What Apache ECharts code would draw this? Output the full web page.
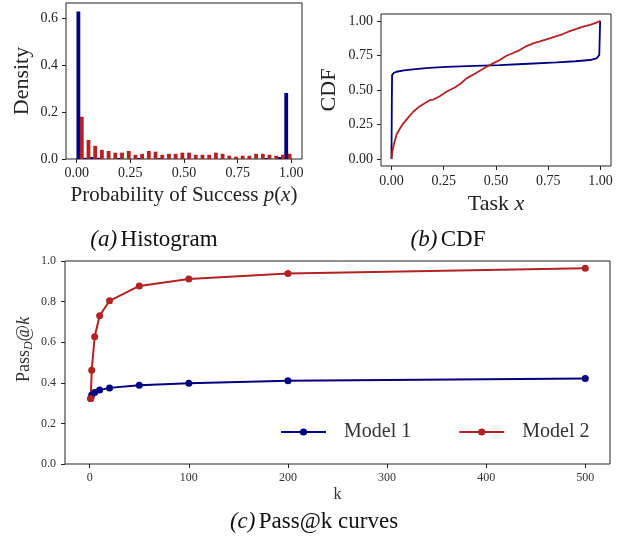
<!DOCTYPE html>
<html><head><meta charset="utf-8">
<script src="https://cdn.jsdelivr.net/npm/echarts@6/dist/echarts.min.js"></script>
<style>html,body{margin:0;padding:0;background:#fff}#c{width:624px;height:541px}</style>
</head><body><div id="c"></div>
<script>
// ---- data ----
const histModel1 = [0.628,0.005,0.008,0.005,0,0,0.004,0,0,0.004,0,0,0.003,0,0,0,0,0,0,0,0,0,0,0,0,0,0,0,0.004,0,0.008,0.281];
const histModel2 = [0.180,0.081,0.056,0.039,0.034,0.027,0.027,0.034,0.018,0.022,0.034,0.031,0.018,0.022,0.022,0.027,0.027,0.018,0.018,0.018,0.027,0.022,0.014,0.010,0.014,0.014,0.022,0.022,0.018,0.014,0.018,0.022];
const cdfModel1 = [[0,0],[0.002,0.45],[0.003,0.608],[0.012,0.625],[0.024,0.632],[0.06,0.642],[0.103,0.649],[0.18,0.66],[0.263,0.668],[0.4,0.675],[0.518,0.68],[0.63,0.688],[0.79,0.70],[0.88,0.708],[0.949,0.717],[0.981,0.729],[0.994,0.753],[0.998,1.0]];
const cdfModel2 = [[0,0],[0.005,0.06],[0.012,0.11],[0.025,0.18],[0.04,0.22],[0.056,0.257],[0.08,0.30],[0.103,0.341],[0.136,0.383],[0.183,0.426],[0.2,0.431],[0.231,0.455],[0.263,0.487],[0.303,0.518],[0.33,0.545],[0.359,0.584],[0.407,0.625],[0.455,0.668],[0.486,0.693],[0.518,0.717],[0.55,0.748],[0.582,0.768],[0.614,0.789],[0.646,0.818],[0.678,0.838],[0.71,0.852],[0.742,0.867],[0.79,0.89],[0.82,0.905],[0.853,0.926],[0.885,0.942],[0.917,0.959],[0.95,0.972],[0.98,0.988],[1.0,1.0]];
const kValues = [1,2,5,10,20,50,100,200,500];
const passModel1 = [0.323,0.340,0.352,0.364,0.375,0.388,0.398,0.410,0.421];
const passModel2 = [0.323,0.462,0.627,0.730,0.804,0.877,0.911,0.939,0.964];
const histXTicks = [0,0.25,0.5,0.75,1];
const histYTicks = [0,0.2,0.4,0.6];
const cdfTicks = [0,0.25,0.5,0.75,1];
const passXTicks = [0,100,200,300,400,500];

// ---- build ----
const FONT = 'Liberation Serif';
const NAVY = '#000080', RED = '#B22222', TXT = '#222';
const nBins = histModel1.length;
const centers = histModel1.map((_, i) => (i + 0.5) / nBins);
const zip = (xs, ys) => xs.map((x, i) => [x, ys[i]]);

function tick(custom) {
  const t = {show: true, inside: false, length: 4, lineStyle: {color: '#222'}};
  if (custom) t.customValues = custom;
  return t;
}
function valAxis(o) {
  return Object.assign({
    type: 'value', axisLine: {show: false, onZero: false}, splitLine: {show: false},
    axisTick: tick(null),
    axisLabel: {fontFamily: FONT, color: TXT, fontSize: 14, margin: 7},
    nameTextStyle: {fontFamily: FONT, color: TXT, fontSize: 22},
    nameLocation: 'middle', nameMoveOverlap: false
  }, o);
}
const gridStyle = {show: true, borderColor: '#222', borderWidth: 1, containLabel: false};

const option = {
  animation: false,
  grid: [
    Object.assign({left: 66, top: 3, width: 236, height: 156}, gridStyle),
    Object.assign({left: 381, top: 14, width: 230, height: 152}, gridStyle),
    Object.assign({left: 65, top: 261, width: 545, height: 203}, gridStyle)
  ],
  xAxis: [
    valAxis({gridIndex: 0, min: -0.05, max: 1.05, axisTick: tick(histXTicks),
      axisLabel: {fontFamily: FONT, color: TXT, fontSize: 14, margin: 7, customValues: histXTicks, formatter: v => v.toFixed(2)},
      name: '{n|Probability of Success }{i|p}{n|(}{i|x}{n|)}', nameGap: 26,
      nameTextStyle: {rich: {n: {fontFamily: FONT, fontSize: 21, color: TXT}, i: {fontFamily: FONT, fontSize: 21, color: TXT, fontStyle: 'italic'}}}}),
    valAxis({gridIndex: 1, min: -0.05, max: 1.05, axisTick: tick(cdfTicks),
      axisLabel: {fontFamily: FONT, color: TXT, fontSize: 14, margin: 8, customValues: cdfTicks, formatter: v => v.toFixed(2)},
      name: '{n|Task }{i|x}', nameGap: 27,
      nameTextStyle: {rich: {n: {fontFamily: FONT, fontSize: 22, color: TXT}, i: {fontFamily: FONT, fontSize: 22, color: TXT, fontStyle: 'italic'}}}}),
    valAxis({gridIndex: 2, min: -24.95, max: 524.95, axisTick: tick(passXTicks),
      axisLabel: {fontFamily: FONT, color: '#333', fontSize: 12, margin: 8, customValues: passXTicks},
      name: 'k', nameGap: 23, nameTextStyle: {fontFamily: FONT, color: '#333', fontSize: 16}})
  ],
  yAxis: [
    valAxis({gridIndex: 0, min: 0, max: 0.664, axisTick: tick(histYTicks),
      axisLabel: {fontFamily: FONT, color: TXT, fontSize: 14, margin: 8, customValues: histYTicks, formatter: v => v.toFixed(1)},
      name: 'Density', nameGap: 33}),
    valAxis({gridIndex: 1, min: -0.05, max: 1.05, axisTick: tick(cdfTicks),
      axisLabel: {fontFamily: FONT, color: TXT, fontSize: 14, margin: 8, customValues: cdfTicks, formatter: v => v.toFixed(2)},
      name: 'CDF', nameGap: 41}),
    valAxis({gridIndex: 2, min: 0, max: 1, interval: 0.2, axisTick: tick(null),
      axisLabel: {fontFamily: FONT, color: '#333', fontSize: 12, margin: 9, formatter: v => v.toFixed(1)},
      name: '{n|Pass}{s|D}{n|@}{i|k}', nameGap: 30,
      nameTextStyle: {padding: [0, 0, 0, 26], rich: {
        n: {fontFamily: FONT, fontSize: 18, color: '#333', lineHeight: 22},
        s: {fontFamily: FONT, fontSize: 12, color: '#333', fontStyle: 'italic', verticalAlign: 'bottom', lineHeight: 10},
        i: {fontFamily: FONT, fontSize: 18, color: '#333', fontStyle: 'italic', lineHeight: 22}}}})
  ],
  legend: {
    data: ['Model 1', 'Model 2'], left: 280, top: 422, orient: 'horizontal', padding: 0,
    itemWidth: 45, itemHeight: 9, itemGap: 47,
    textStyle: {fontFamily: FONT, fontSize: 20, color: '#333', padding: [0, 0, 0, 13]}
  },
  graphic: [
    {type: 'text', x: 154, y: 240, style: {text: '{i|(a)} {n|Histogram}', align: 'center', verticalAlign: 'middle',
      rich: {i: {fontFamily: FONT, fontSize: 23, fontStyle: 'italic', fill: '#111'}, n: {fontFamily: FONT, fontSize: 23, fill: '#111'}}}},
    {type: 'text', x: 448, y: 240, style: {text: '{i|(b)} {n|CDF}', align: 'center', verticalAlign: 'middle',
      rich: {i: {fontFamily: FONT, fontSize: 23, fontStyle: 'italic', fill: '#111'}, n: {fontFamily: FONT, fontSize: 23, fill: '#111'}}}},
    {type: 'text', x: 314, y: 522, style: {text: '{i|(c)} {n|Pass@k curves}', align: 'center', verticalAlign: 'middle',
      rich: {i: {fontFamily: FONT, fontSize: 23, fontStyle: 'italic', fill: '#111'}, n: {fontFamily: FONT, fontSize: 23, fill: '#111'}}}}
  ],
  series: [
    {name: 'Model 1 hist', type: 'bar', xAxisIndex: 0, yAxisIndex: 0, data: zip(centers, histModel1),
      itemStyle: {color: NAVY}, barWidth: 3.8, barGap: '-10%'},
    {name: 'Model 2 hist', type: 'bar', xAxisIndex: 0, yAxisIndex: 0, data: zip(centers, histModel2),
      itemStyle: {color: RED}, barWidth: 3.8, barGap: '-10%'},
    {name: 'Model 1 cdf', type: 'line', xAxisIndex: 1, yAxisIndex: 1, data: cdfModel1, showSymbol: false,
      lineStyle: {color: NAVY, width: 1.8}, itemStyle: {color: NAVY}},
    {name: 'Model 2 cdf', type: 'line', xAxisIndex: 1, yAxisIndex: 1, data: cdfModel2, showSymbol: false,
      lineStyle: {color: RED, width: 1.8}, itemStyle: {color: RED}},
    {name: 'Model 1', type: 'line', xAxisIndex: 2, yAxisIndex: 2, data: zip(kValues, passModel1),
      symbol: 'circle', symbolSize: 7, lineStyle: {color: NAVY, width: 2}, itemStyle: {color: NAVY}},
    {name: 'Model 2', type: 'line', xAxisIndex: 2, yAxisIndex: 2, data: zip(kValues, passModel2),
      symbol: 'circle', symbolSize: 7, lineStyle: {color: RED, width: 2}, itemStyle: {color: RED}}
  ]
};
const chart = echarts.init(document.getElementById('c'), null, {renderer: 'canvas'});
chart.setOption(option);
</script>
</body></html>
